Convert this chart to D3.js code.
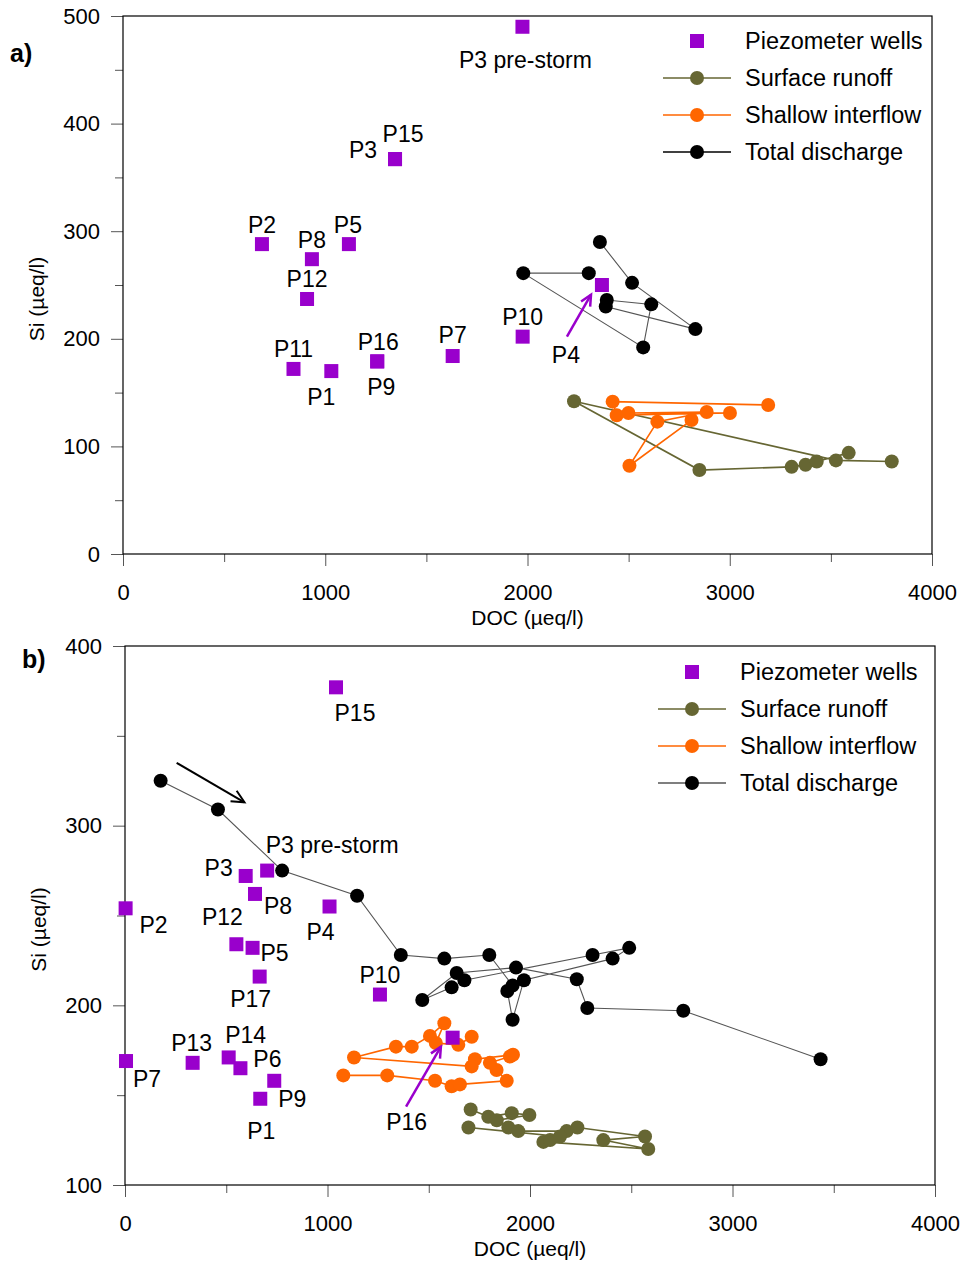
<!DOCTYPE html>
<html>
<head>
<meta charset="utf-8">
<script src="https://cdn.jsdelivr.net/npm/d3@7/dist/d3.min.js"></script>
<style>
  html, body { margin: 0; padding: 0; background: #fff; }
  svg { display: block; font-family: "Liberation Sans", Arial, sans-serif; }
</style>
</head>
<body>
<svg id="chart" width="962" height="1262"></svg>
<script>
// ---------- shared ----------
const xTicks = [0, 1000, 2000, 3000, 4000];
const xMinorTicks = [500, 1500, 2500, 3500];
const xTitle = "DOC (µeq/l)";
const yTitle = "Si (µeq/l)";
const seriesNames = ["Piezometer wells", "Surface runoff", "Shallow interflow", "Total discharge"];

// ---------- panel a ----------
const yTicksA = [0, 100, 200, 300, 400, 500];
const yMinorTicksA = [50, 150, 250, 350, 450];

const wellNamesA = ["P3 pre-storm", "P15", "P3", "P2", "P8", "P5", "P12", "P11", "P1", "P16", "P9", "P7", "P10", "P4"];
const wellDocA   = [1975, 1345, 1345, 687, 934, 1117, 910, 843, 1030, 1257, 1257, 1630, 1976, 2368];
const wellSiA    = [490, 367, 367, 288, 274, 288, 237, 172, 170, 179, 179, 184, 202, 250];

const runoffDocA = [3801, 3525, 2230, 2850, 3306, 3375, 3430, 3588];
const runoffSiA  = [86, 87, 142, 78, 81, 83, 86, 94];

const interflowDocA = [3190, 2421, 2441, 3001, 2499, 2886, 2642, 2504, 2811];
const interflowSiA  = [138.5, 141.6, 129, 131, 131, 132, 123, 82, 124.5];

const dischargeDocA = [2358, 2517, 2830, 2387, 2392, 2612, 2572, 1979, 2303];
const dischargeSiA  = [290, 252, 209, 230, 236, 232, 192, 261, 261];

// ---------- panel b ----------
const yTicksB = [100, 200, 300, 400];
const yMinorTicksB = [150, 250, 350];

const wellNamesB = ["P15", "P2", "P3", "P3 pre-storm", "P8", "P4", "P12", "P5", "P17", "P10", "P7", "P13", "P14", "P6", "P9", "P1", "P16"];
const wellDocB   = [1042, 3, 596, 702, 642, 1010, 550, 630, 665, 1259, 5, 334, 512, 570, 737, 668, 1618];
const wellSiB    = [377, 254, 272, 275, 262, 255, 234, 232, 216, 206, 169, 168, 171, 165, 158, 148, 182];

const runoffDocB = [1707, 1794, 1910, 1997, 1836, 1893, 1942, 2181, 2234, 2568, 2362, 2584, 2066, 2099, 2148, 1696];
const runoffSiB  = [142, 138, 140, 139, 136, 132, 130, 130, 132, 127, 125, 120, 124, 125, 127, 132];

const interflowDocB = [1078, 1295, 1531, 1613, 1654, 1885, 1835, 1802, 1901, 1916, 1728, 1712, 1131, 1338, 1416, 1506, 1577, 1535, 1646, 1712];
const interflowSiB  = [161, 161, 158, 155, 156, 158, 164, 168, 171.5, 172.5, 170, 166, 171, 177, 177, 183, 190, 179, 178, 182.5];

const dischargeDocB = [176, 459, 776, 1146, 1362, 1577, 1799, 1914, 1888, 1914, 1970, 2408, 2490, 2309, 1676, 1613, 1468, 1638, 1931, 2231, 2283, 2757, 3435];
const dischargeSiB  = [325, 309, 275, 261, 228, 226, 228, 211, 208, 192, 214, 226, 232, 228, 214, 210, 203, 218, 221, 214.5, 198.5, 197, 170];

// ---------- styling ----------
const colors = { well: "#9900CC", runoff: "#666633", interflow: "#FF6600", discharge: "#000000", dischargeLine: "#555555" };
const FONT_TICK = 22, FONT_TITLE = 21, FONT_LABEL = 23, FONT_LEGEND = 23.5;

// label placement (pixel offsets from each well's square; baseline anchored, text centred)
const labelOffsetA = {
  "P3 pre-storm": [3, 41], "P15": [8, -17], "P3": [-32, -1], "P2": [0, -11], "P8": [0, -11],
  "P5": [-1, -11], "P12": [0, -12], "P11": [0, -12], "P1": [-10, 34], "P16": [1, -11],
  "P9": [4, 34], "P7": [0, -13], "P10": [0, -12], "P4": [-36, 78]
};
const labelOffsetB = {
  "P15": [19, 34], "P2": [28, 25], "P3": [-27, 0], "P3 pre-storm": [65, -18], "P8": [23, 20],
  "P4": [-9, 33], "P12": [-14, -19], "P5": [22, 13], "P17": [-9, 30], "P10": [0, -12],
  "P7": [21, 26], "P13": [-1, -12], "P14": [17, -14], "P6": [27, -1], "P9": [18, 26],
  "P1": [1, 40], "P16": [-46, 92]
};

const svg = d3.select("#chart");

function drawArrow(g, x1, y1, x2, y2, color, width, head) {
  const ang = Math.atan2(y2 - y1, x2 - x1);
  const a1 = ang + Math.PI - 0.45, a2 = ang + Math.PI + 0.45;
  g.append("line").attr("x1", x1).attr("y1", y1).attr("x2", x2).attr("y2", y2)
    .attr("stroke", color).attr("stroke-width", width);
  g.append("path")
    .attr("d", `M${x2 + head * Math.cos(a1)},${y2 + head * Math.sin(a1)} L${x2},${y2} L${x2 + head * Math.cos(a2)},${y2 + head * Math.sin(a2)}`)
    .attr("fill", "none").attr("stroke", color).attr("stroke-width", width);
}

function drawPanel(p) {
  const x = d3.scaleLinear().domain([0, 4000]).range([p.left, p.right]);
  const y = d3.scaleLinear().domain(p.yDomain).range([p.bottom, p.top]);
  const g = svg.append("g");

  // minor ticks
  g.append("g").attr("transform", `translate(0,${p.bottom})`)
    .call(d3.axisBottom(x).tickValues(xMinorTicks).tickSize(8).tickFormat("").tickSizeOuter(0))
    .call(s => s.select(".domain").remove())
    .call(s => s.selectAll("line").attr("stroke", "#555"));
  g.append("g").attr("transform", `translate(${p.left},0)`)
    .call(d3.axisLeft(y).tickValues(p.yMinor).tickSize(8).tickFormat("").tickSizeOuter(0))
    .call(s => s.select(".domain").remove())
    .call(s => s.selectAll("line").attr("stroke", "#555"));

  // major axes
  g.append("g").attr("transform", `translate(0,${p.bottom})`)
    .call(d3.axisBottom(x).tickValues(xTicks).tickSize(12).tickPadding(18).tickSizeOuter(0).tickFormat(d3.format("d")))
    .call(s => s.select(".domain").remove())
    .call(s => s.selectAll("line").attr("stroke", "#555"))
    .call(s => s.selectAll("text").attr("font-size", FONT_TICK).attr("fill", "#000")
      .attr("font-family", "Liberation Sans, Arial, sans-serif"));
  g.append("g").attr("transform", `translate(${p.left},0)`)
    .call(d3.axisLeft(y).tickValues(p.yTicks).tickSize(12).tickPadding(11).tickSizeOuter(0).tickFormat(d3.format("d")))
    .call(s => s.select(".domain").remove())
    .call(s => s.selectAll("line").attr("stroke", "#555"))
    .call(s => s.selectAll("text").attr("font-size", FONT_TICK).attr("fill", "#000")
      .attr("font-family", "Liberation Sans, Arial, sans-serif"));

  // frame
  g.append("rect").attr("x", p.left).attr("y", p.top)
    .attr("width", p.right - p.left).attr("height", p.bottom - p.top)
    .attr("fill", "none").attr("stroke", "#000").attr("stroke-width", 1.2);

  // titles
  g.append("text").attr("x", (p.left + p.right) / 2).attr("y", p.bottom + 71)
    .attr("text-anchor", "middle").attr("font-size", FONT_TITLE).text(xTitle);
  g.append("text").attr("transform", `translate(${p.left - 79},${(p.top + p.bottom) / 2 + 14}) rotate(-90)`)
    .attr("text-anchor", "middle").attr("font-size", FONT_TITLE).text(yTitle);
  g.append("text").attr("x", p.panelX).attr("y", p.panelY).attr("font-size", 25)
    .attr("font-weight", "bold").text(p.panelLabel);

  const line = d3.line().x(d => x(d[0])).y(d => y(d[1]));
  const series = [
    { doc: p.runoffDoc, si: p.runoffSi, stroke: colors.runoff, fill: colors.runoff, w: 1.6 },
    { doc: p.interflowDoc, si: p.interflowSi, stroke: colors.interflow, fill: colors.interflow, w: 1.6 },
    { doc: p.dischargeDoc, si: p.dischargeSi, stroke: colors.dischargeLine, fill: colors.discharge, w: 1.1 }
  ];
  series.forEach(s => {
    const pts = s.doc.map((d, i) => [d, s.si[i]]);
    g.append("path").datum(pts).attr("d", line).attr("fill", "none")
      .attr("stroke", s.stroke).attr("stroke-width", s.w);
    g.selectAll(null).data(pts).enter().append("circle")
      .attr("cx", d => x(d[0])).attr("cy", d => y(d[1])).attr("r", 7).attr("fill", s.fill);
  });

  // wells
  const wells = p.wellNames.map((n, i) => ({ name: n, doc: p.wellDoc[i], si: p.wellSi[i] }));
  g.selectAll(null).data(wells).enter().append("rect")
    .attr("x", d => x(d.doc) - 7).attr("y", d => y(d.si) - 7)
    .attr("width", 14).attr("height", 14).attr("fill", colors.well);
  g.selectAll(null).data(wells).enter().append("text")
    .attr("x", d => x(d.doc) + p.labelOffset[d.name][0])
    .attr("y", d => y(d.si) + p.labelOffset[d.name][1])
    .attr("text-anchor", "middle").attr("font-size", FONT_LABEL).text(d => d.name);

  // annotation arrows
  p.arrows.forEach(a => drawArrow(g, x(a.from[0]), y(a.from[1]), x(a.to[0]), y(a.to[1]), a.color, a.width, a.head));

  // legend
  const lg = g.append("g").attr("transform", `translate(${p.legendX},${p.legendY})`);
  const rowH = 37;
  lg.append("rect").attr("x", -7).attr("y", -7).attr("width", 14).attr("height", 14).attr("fill", colors.well);
  const legendSeries = [colors.runoff, colors.interflow, colors.discharge];
  const legendLines = [colors.runoff, colors.interflow, p.legendDischargeLine];
  legendSeries.forEach((c, i) => {
    const yy = rowH * (i + 1);
    lg.append("line").attr("x1", -34).attr("x2", 34).attr("y1", yy).attr("y2", yy)
      .attr("stroke", legendLines[i]).attr("stroke-width", 1.6);
    lg.append("circle").attr("cx", 0).attr("cy", yy).attr("r", 7).attr("fill", c);
  });
  seriesNames.forEach((n, i) => {
    lg.append("text").attr("x", p.legendTextDx).attr("y", rowH * i + 8)
      .attr("font-size", FONT_LEGEND).text(n);
  });
}

drawPanel({
  left: 123, right: 932, top: 16, bottom: 554,
  yDomain: [0, 500], yTicks: yTicksA, yMinor: yMinorTicksA,
  panelLabel: "a)", panelX: 10, panelY: 62,
  wellNames: wellNamesA, wellDoc: wellDocA, wellSi: wellSiA,
  runoffDoc: runoffDocA, runoffSi: runoffSiA,
  interflowDoc: interflowDocA, interflowSi: interflowSiA,
  dischargeDoc: dischargeDocA, dischargeSi: dischargeSiA,
  labelOffset: labelOffsetA,
  arrows: [{ from: [2195, 202], to: [2314, 241], color: colors.well, width: 2.5, head: 12 }],
  legendX: 697, legendY: 41, legendTextDx: 48, legendDischargeLine: "#000"
});

drawPanel({
  left: 125, right: 935, top: 646, bottom: 1185,
  yDomain: [100, 400], yTicks: yTicksB, yMinor: yMinorTicksB,
  panelLabel: "b)", panelX: 22, panelY: 668,
  wellNames: wellNamesB, wellDoc: wellDocB, wellSi: wellSiB,
  runoffDoc: runoffDocB, runoffSi: runoffSiB,
  interflowDoc: interflowDocB, interflowSi: interflowSiB,
  dischargeDoc: dischargeDocB, dischargeSi: dischargeSiB,
  labelOffset: labelOffsetB,
  arrows: [
    { from: [255, 335], to: [590, 313], color: "#000", width: 2, head: 14 },
    { from: [1388, 143.6], to: [1560, 177], color: colors.well, width: 2.5, head: 12 }
  ],
  legendX: 692, legendY: 672, legendTextDx: 48, legendDischargeLine: "#555"
});
</script>
</body>
</html>
